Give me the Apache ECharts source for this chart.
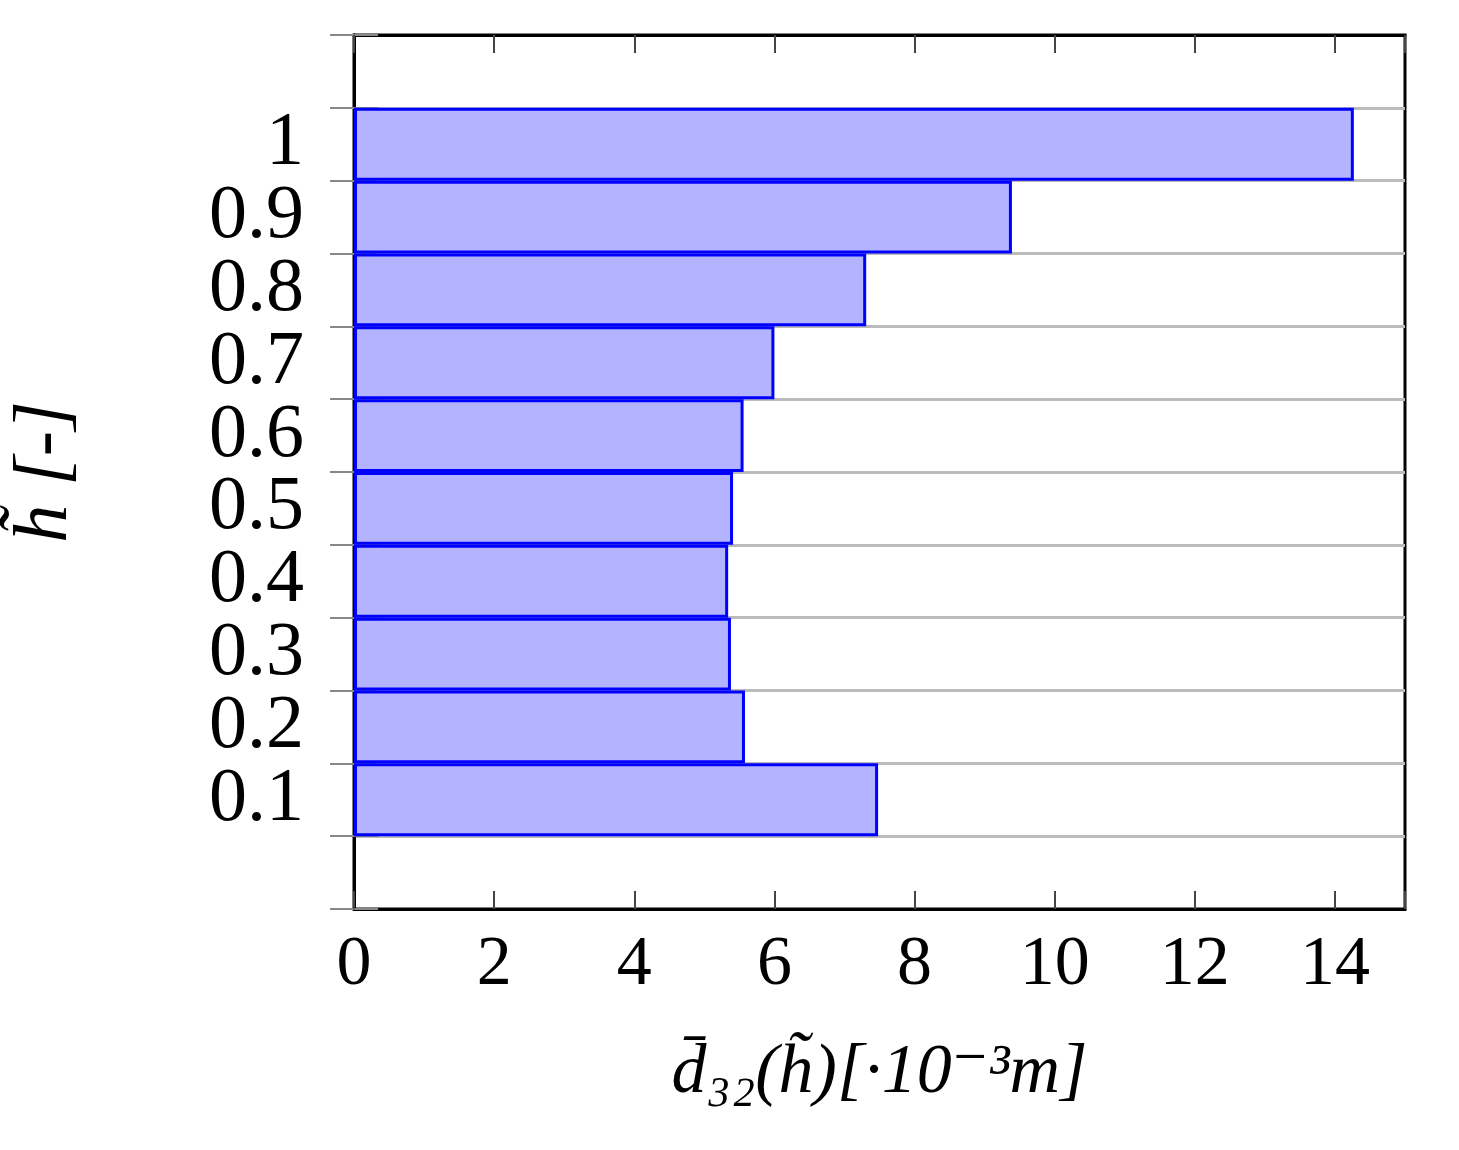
<!DOCTYPE html>
<html><head><meta charset="utf-8">
<script src="https://cdn.jsdelivr.net/npm/echarts@6/dist/echarts.min.js"></script>
<style>html,body{margin:0;padding:0;background:#fff}#c{width:1459px;height:1150px}</style>
</head><body><div id="c"></div>
<script>
const categories = ['', '0.1','0.2','0.3','0.4','0.5','0.6','0.7','0.8','0.9','1', ''];
const values = [null, 7.48, 5.58, 5.38, 5.34, 5.41, 5.56, 6.0, 7.31, 9.39, 14.27, null];
const xTicks = [0,2,4,6,8,10,12,14];
const F = 'Liberation Serif, DejaVu Serif, serif';
const chart = echarts.init(document.getElementById('c'));
chart.setOption({
  animation:false,
  grid:{left:352, top:35, width:1053, height:874, show:true, borderColor:'#000', borderWidth:3},
  xAxis:[{type:'value', min:0, max:15, interval:2,
    axisLine:{show:true,lineStyle:{color:'#000',width:3}},
    axisTick:{show:true,inside:true,length:18,lineStyle:{color:'#444',width:2}},
    axisLabel:{fontFamily:F,fontSize:70,color:'#000',margin:22,
      formatter:v=>xTicks.includes(v)?String(v):''},
    splitLine:{show:false},
    name:'d̄₃₂(h̃)[·10⁻³m]', nameLocation:'middle', nameGap:130,
    nameTextStyle:{fontFamily:F,fontSize:70,color:'#000',fontStyle:'italic'}},
   {type:'value', position:'top', min:0, max:15, interval:2,
    axisLine:{show:true,lineStyle:{color:'#000',width:3}},
    axisTick:{show:true,inside:true,length:18,lineStyle:{color:'#444',width:2}},
    axisLabel:{show:false}, splitLine:{show:false}}],
  yAxis:[{type:'category', data:categories, boundaryGap:true,
    axisLine:{show:true,lineStyle:{color:'#000',width:3}},
    axisTick:{show:true,inside:false,length:24,interval:0,lineStyle:{color:'#888',width:2}},
    axisLabel:{fontFamily:F,fontSize:76,color:'#000',margin:50,interval:0},
    splitLine:{show:true,interval:0,lineStyle:{color:'#bbb',width:3}},
    name:'h̃ [-]', nameLocation:'middle', nameGap:270, nameRotate:90,
    nameTextStyle:{fontFamily:F,fontSize:76,color:'#000',fontStyle:'italic'}},
   {type:'category', data:categories, position:'right',
    axisLine:{show:true,lineStyle:{color:'#000',width:3}},
    axisTick:{show:true,inside:false,length:24,interval:0,lineStyle:{color:'#888',width:2}},
    axisLabel:{show:false}}],
  series:[{type:'bar', data:values, barWidth:'100%', barCategoryGap:'0%',
    itemStyle:{color:'#b3b3ff', borderColor:'#0000ff', borderWidth:3}}]
});
</script></body></html>
